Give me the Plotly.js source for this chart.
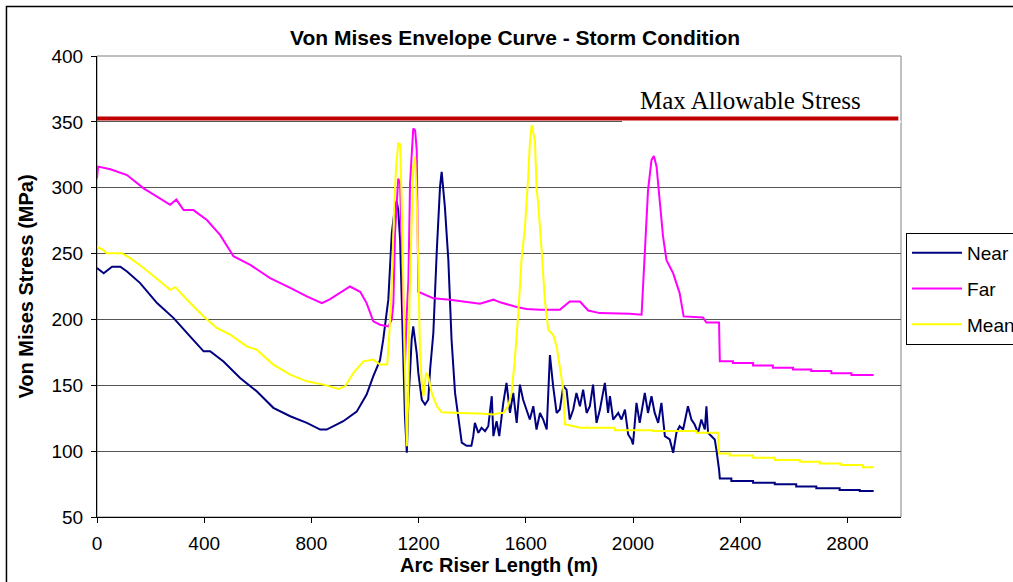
<!DOCTYPE html>
<html><head><meta charset="utf-8">
<script src="https://cdn.plot.ly/plotly-3.0.1.min.js"></script>
<style>html,body{margin:0;padding:0;background:#fff;} #chart{width:1013px;height:582px;}</style>
</head><body><div id="chart"></div>
<script>
// ---- data ----
const nearX = [0,25,56,87,112,161,224,286,348,398,422,472,534,596,658,721,783,833,857,919,969,1006,1031,1056,1068,1087,1100,1112,1118,1124,1131,1137,1143,1149,1156,1162,1168,1174,1180,1193,1199,1212,1224,1236,1243,1255,1268,1280,1286,1298,1311,1323,1336,1348,1361,1379,1397,1404,1410,1423,1435,1448,1460,1473,1479,1491,1501,1516,1528,1541,1553,1566,1578,1590,1603,1615,1628,1640,1653,1665,1678,1690,1702,1715,1727,1740,1752,1764,1777,1789,1802,1814,1827,1839,1851,1864,1876,1895,1907,1914,1926,1945,1957,1970,1982,1994,2000,2013,2025,2044,2056,2069,2081,2094,2106,2119,2137,2150,2162,2174,2187,2199,2205,2218,2230,2243,2255,2268,2274,2280,2293,2305,2311,2317,2321,2324,2367,2367,2448,2448,2529,2529,2609,2609,2684,2684,2771,2771,2846,2846,2898];
const nearY = [239,235,240,240,236.4,227.6,212.4,201,187,175.8,175.8,168,155.6,145.4,132.9,126.5,121.5,116.4,116.4,122.7,130,143,157,169,184.6,215,265.5,285.6,290,283,260,212.4,167,126.5,98.8,139,159.4,184.6,194.7,174.5,159.4,139,135.4,139,162,189.7,252.8,300.8,312,285.6,245,184.6,144.2,124,106.4,104,104,111.4,121.5,113.9,117.7,115.2,118.9,141.7,111.4,122.7,111.4,136.7,151.8,129,144.2,121.5,150.5,139,131.6,124,134.1,116.4,129,124,116.4,173,149.3,129,131.6,149.3,146.7,124,131.6,144.2,134.1,146.7,129,134.1,150.5,121.5,131,151.8,129,141.7,124,129,124,131.6,112.7,108.9,105.1,136.7,121.5,144.2,129,141.7,129,121.5,136.7,111.4,108.9,98.8,113.9,118.9,116.4,129,134.1,124,120.2,113.9,124,116.4,134.1,113.9,111.4,108.9,101.3,93.7,86.1,79.3,79.3,77.3,77.3,76,76,74.8,74.8,73.2,73.2,71.8,71.8,70.5,70.5,69.7,69.7];

const farX = [0,4,50,112,174,273,296,323,360,410,460,509,572,646,721,783,839,870,944,982,1006,1031,1056,1087,1100,1106,1112,1124,1131,1137,1143,1149,1156,1162,1168,1180,1187,1193,1199,1205,1255,1317,1417,1429,1479,1504,1566,1603,1653,1727,1764,1802,1833,1876,1988,2032,2044,2056,2069,2078,2088,2100,2112,2125,2150,2174,2189,2261,2274,2321,2324,2373,2373,2448,2448,2522,2522,2597,2597,2665,2665,2740,2740,2815,2815,2898];
const farY = [307,316,314,309.6,299.5,287,291,283,283,275.5,264,248,241.4,231.4,224,217.5,212.4,215.4,225,221,212.4,198.5,196,194.7,200,212.5,265.5,307,303,260,200,165,205,230,303,345,343.7,328.6,221,220.5,216,215,212.4,212,215,213,209.4,208,207.3,207.3,213.6,213.6,206.8,204.8,204.3,203.6,250.3,298,321,324,316,290.7,263,245,235,220,202.3,201.5,197.7,197.7,168.2,168.2,167,167,165,165,163.4,163.4,161.9,161.9,160.9,160.9,159.1,159.1,157.9,157.9];

const meanX = [0,19,37,93,124,174,236,273,292,336,398,447,497,559,596,658,721,783,845,901,926,957,994,1031,1056,1083,1091,1100,1108,1116,1124,1131,1137,1143,1149,1156,1162,1166,1174,1180,1187,1193,1199,1205,1212,1218,1228,1236,1249,1268,1286,1317,1354,1429,1479,1503,1516,1534,1547,1559,1572,1584,1597,1609,1615,1622,1634,1640,1646,1659,1671,1684,1702,1715,1727,1740,1746,1752,1802,1932,1932,2075,2075,2237,2237,2317,2321,2361,2361,2448,2448,2529,2529,2622,2622,2697,2697,2777,2777,2858,2858,2898];
const meanY = [254.8,253.3,250.3,250.3,246.5,239,228.8,222.5,224.5,214.9,202.3,193.5,188.4,179.5,177,165.7,158.1,153,150.5,147.3,149.3,159.4,168.2,169.5,165.7,165.7,189.7,227.6,280.6,315.9,333.6,333,288.2,220,164.4,103.8,146.7,214.9,278,315.9,323.5,290.7,240.2,177,151.8,141.7,159.4,156.8,144.2,134.1,129.5,129.5,129,128.5,127.8,129,129,134.1,144.2,169.5,204.8,245,270.5,308.3,333.6,347.5,336.1,300.8,288.2,252.8,214.9,192.2,188.4,179.5,164.4,146.7,120.2,120.2,117.7,117.7,115.9,115.9,115.2,115.2,113.9,113.9,98.2,98.2,96.7,96.7,95,95,93.2,93.2,92,92,90.7,90.7,89.5,89.5,87.8,87.8];

const allowableStress = [352.5];
const allowableLabel = "Max Allowable Stress";
const seriesNames = ["Near", "Far", "Mean"];
const xTicks = [0,400,800,1200,1600,2000,2400,2800];
const xRange = [0, 3000];
const yRange = [50, 400];

// ---- chart ----
const F = "'Liberation Sans', Arial, sans-serif";
const lineW = 2;
const traces = [
  {x: [xRange[0], 2990], y: [allowableStress[0], allowableStress[0]], mode: 'lines',
   line: {color: '#C00000', width: 4}, showlegend: false, hoverinfo: 'skip'},
  {x: nearX, y: nearY, name: seriesNames[0], mode: 'lines', line: {color: '#000080', width: lineW}, legendgroup: 'a'},
  {x: farX, y: farY, name: seriesNames[1], mode: 'lines', line: {color: '#FF00FF', width: lineW}, legendgroup: 'b'},
  {x: meanX, y: meanY, name: seriesNames[2], mode: 'lines', line: {color: '#FFFF00', width: lineW}, legendgroup: 'c'}
];

const layout = {
  width: 1013, height: 582,
  margin: {l: 97, r: 112, t: 56, b: 65, autoexpand: false},
  paper_bgcolor: '#fff', plot_bgcolor: '#fff',
  font: {family: F, color: '#000'},
  title: {text: 'Von Mises Envelope Curve - Storm Condition', font: {family: F, size: 21, weight: 'bold'},
          xref: 'paper', x: 0.52, xanchor: 'center', yref: 'container', y: 0.936, yanchor: 'middle'},
  xaxis: {range: xRange, tickvals: xTicks, showgrid: false, zeroline: false,
          showline: true, linecolor: '#000', linewidth: 1, ticks: 'outside', ticklen: 5, tickcolor: '#000',
          tickfont: {family: F, size: 19}, ticklabelstandoff: 4,
          title: {text: 'Arc Riser Length (m)', font: {family: F, size: 20, weight: 'bold'}, standoff: 0}},
  yaxis: {range: yRange, dtick: 50, showgrid: true, gridcolor: '#555', gridwidth: 1, zeroline: false,
          showline: true, linecolor: '#000', linewidth: 1, ticks: 'outside', ticklen: 5, tickcolor: '#000',
          tickfont: {family: F, size: 19}, ticklabelstandoff: 4,
          title: {text: 'Von Mises Stress (MPa)', font: {family: F, size: 20, weight: 'bold'}, standoff: 12}},
  legend: {xref: 'container', yref: 'container', x: 0.8944, xanchor: 'left', y: 0.5034, yanchor: 'middle',
           bordercolor: '#000', borderwidth: 1,
           bgcolor: '#fff', font: {family: F, size: 19}, tracegroupgap: 8, itemwidth: 50},
  shapes: [
    {type: 'rect', xref: 'paper', yref: 'paper', x0: 0, x1: 1, y0: 0, y1: 1, line: {color: '#808080', width: 1}, layer: 'below'},
    {type: 'line', xref: 'x', yref: 'y', x0: 1959, x1: 3000, y0: 350, y1: 350, line: {color: '#fff', width: 2}, layer: 'between'},
    {type: 'rect', xref: 'paper', yref: 'paper', x0: -0.1126, x1: 1.16, y0: -0.18, y1: 1.1074, line: {color: '#000', width: 1.5}}
  ],
  annotations: [
    {text: allowableLabel, xref: 'x', yref: 'y', x: 2440, y: 366, xanchor: 'center', yanchor: 'middle', showarrow: false,
     font: {family: "'Liberation Serif', 'Times New Roman', serif", size: 25, color: '#000'}}
  ]
};

Plotly.newPlot('chart', traces, layout, {displayModeBar: false, staticPlot: true});
</script></body></html>
